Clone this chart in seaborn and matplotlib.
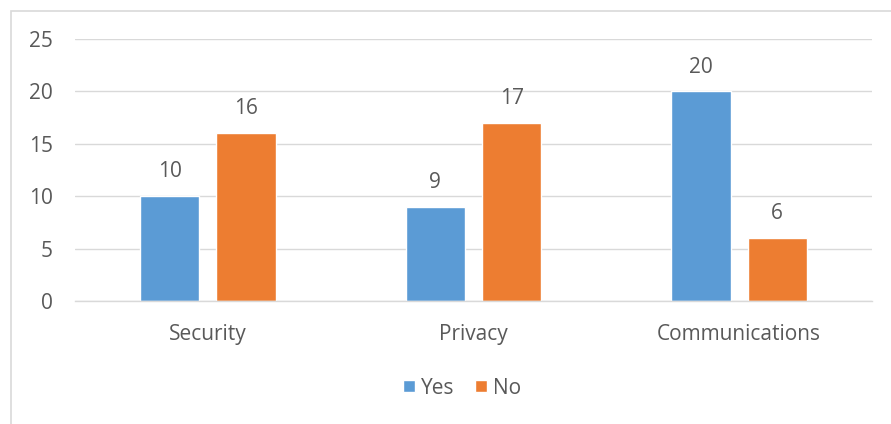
import matplotlib
matplotlib.use("Agg")
import matplotlib.pyplot as plt
import matplotlib.patches as mpatches
import pandas as pd
import seaborn as sns

categories = ["Security", "Privacy", "Communications"]
yes_values = [10, 9, 20]
no_values = [16, 17, 6]
series = ["Yes", "No"]
colors = ["#5B9BD5", "#ED7D31"]

df = pd.DataFrame({
    "category": categories * 2,
    "answer": ["Yes"] * len(categories) + ["No"] * len(categories),
    "count": yes_values + no_values,
})

sns.set_style("white")
plt.rcParams["font.family"] = ["Open Sans", "DejaVu Sans"]
text_color = "#595959"
grid_color = "#d9d9d9"
fs = 15

fig = plt.figure(figsize=(8.91, 4.24), dpi=100)
W, H = 891, 424
ax = fig.add_axes([75 / W, 1 - 301 / H, (872 - 75) / W, (301 - 39) / H])

sns.barplot(
    data=df, x="category", y="count", hue="answer",
    hue_order=series, palette=colors, order=categories,
    width=0.574, gap=0.224, saturation=1, ax=ax, legend=False,
)

ax.set_ylim(0, 25)
ax.set_yticks(range(0, 26, 5))
ax.set_xlim(-0.5, 2.5)
ax.yaxis.grid(True, color=grid_color, linewidth=1)
ax.set_axisbelow(True)
for s in ["top", "right", "left"]:
    ax.spines[s].set_visible(False)
ax.spines["bottom"].set_color(grid_color)
ax.spines["bottom"].set_linewidth(1)
ax.tick_params(axis="both", length=0, labelsize=fs, colors=text_color)
ax.tick_params(axis="y", pad=16)
ax.tick_params(axis="x", pad=16.5)
ax.set_xlabel("")
ax.set_ylabel("")

for cont in ax.containers:
    ax.bar_label(cont, padding=10, fontsize=fs, color=text_color)

handles = [mpatches.Patch(facecolor=c, label=s) for s, c in zip(series, colors)]
fig.legend(
    handles=handles, loc="center", bbox_to_anchor=(462 / W, 1 - 388 / H),
    ncol=2, frameon=False, fontsize=fs, handlelength=0.55, handleheight=0.55,
    handletextpad=0.3, columnspacing=1.0, labelcolor=text_color,
)

# chart border (cut off at right and bottom, as in the original)
fig.patches.append(mpatches.Rectangle(
    (11 / W, -0.1), 1.0, 1.1 - 11 / H, transform=fig.transFigure,
    fill=False, edgecolor=grid_color, linewidth=1.2,
))

fig.savefig("out.png", dpi=100)
